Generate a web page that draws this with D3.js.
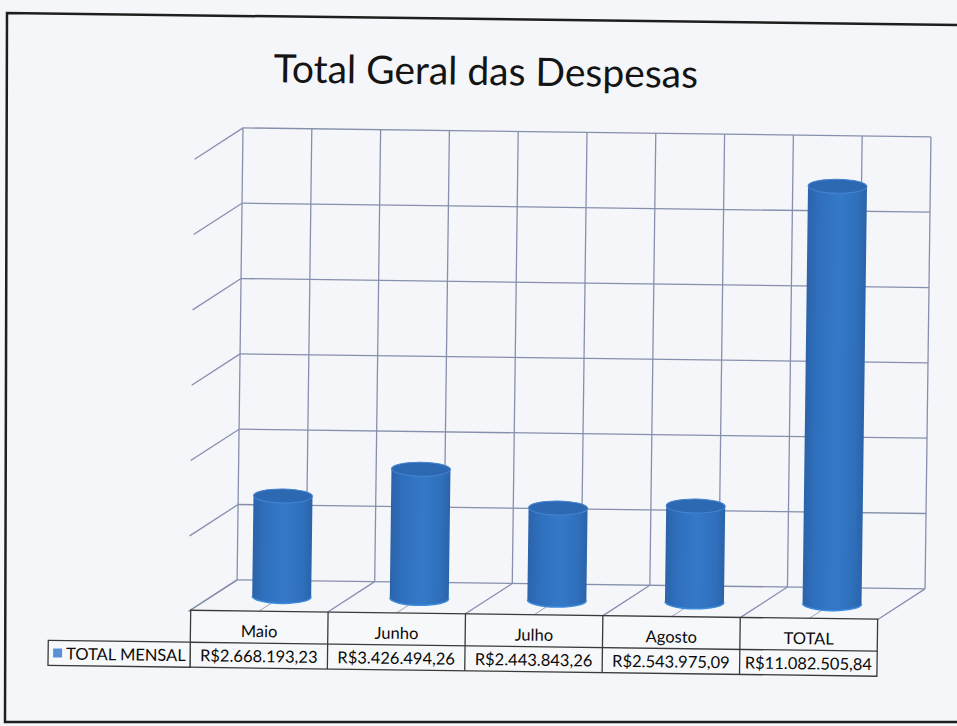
<!DOCTYPE html>
<html>
<head>
<meta charset="utf-8">
<script src="https://cdn.jsdelivr.net/npm/d3@7"></script>
<style>
  body { margin: 0; background: #f5f6f9; }
  svg { display: block; }
</style>
</head>
<body>
<svg id="chart"></svg>
<script>
// data
var chartTitle = "Total Geral das Despesas";
var seriesName = "TOTAL MENSAL";
var categories = ["Maio", "Junho", "Julho", "Agosto", "TOTAL"];
var values = [2668193.23, 3426494.26, 2443843.26, 2543975.09, 11082505.84];
var yTicks = [0, 2000000, 4000000, 6000000, 8000000, 10000000, 12000000];

// basic settings
var width = 957, height = 726;
var depthX = -48, depthY = 32;      // back wall -> front of floor
var wallLeft = 240, wallRight = 928, wallTop = 131, wallBottom = 583;
var gridColor = "#8690ae";

var brl = d3.formatLocale({decimal: ",", thousands: ".", grouping: [3], currency: ["R$", ""]});
var money = brl.format("$,.2f");

var svg = d3.select("#chart").attr("width", width).attr("height", height);

svg.append("rect").attr("width", width).attr("height", height).attr("fill", "#f5f6f9");

// page frame of the scan
svg.append("path")
    .attr("d", "M957,25 L7,13 L5,722 L957,722")
    .attr("fill", "none").attr("stroke", "#1e1e1e").attr("stroke-width", 2.5);

// whole chart slightly tilted, like the scan
var g = svg.append("g").attr("transform", "rotate(0.75,480,360)");

var x = d3.scaleBand().domain(categories).range([wallLeft, wallRight]).padding(0);
var y = d3.scaleLinear().domain([0, 12000000]).range([wallBottom, wallTop]);

// title
g.append("text")
    .attr("x", 482).attr("y", 85)
    .attr("text-anchor", "middle")
    .style("font-family", "Lato, 'Open Sans', sans-serif")
    .style("font-size", "39px")
    .style("fill", "#141414")
    .text(chartTitle);

// vertical positions on the back wall: band edges and centers
var half = x.step() / 2;
var vLines = d3.range(categories.length * 2 + 1).map(function(k) { return wallLeft + k * half; });

var grid = g.append("g").attr("stroke", gridColor).attr("stroke-width", 1.3).attr("fill", "none");

// back wall horizontals
grid.selectAll(".hgrid").data(yTicks).enter().append("line")
    .attr("x1", wallLeft).attr("x2", wallRight)
    .attr("y1", function(d) { return y(d); }).attr("y2", function(d) { return y(d); });

// back wall verticals
grid.selectAll(".vgrid").data(vLines).enter().append("line")
    .attr("x1", function(d) { return d; }).attr("x2", function(d) { return d; })
    .attr("y1", wallTop).attr("y2", wallBottom);

// side wall gridlines
grid.selectAll(".sgrid").data(yTicks).enter().append("line")
    .attr("x1", wallLeft).attr("y1", function(d) { return y(d); })
    .attr("x2", wallLeft + depthX).attr("y2", function(d) { return y(d) + depthY; });

// floor lines
grid.selectAll(".fgrid").data(vLines).enter().append("line")
    .attr("x1", function(d) { return d; }).attr("y1", wallBottom)
    .attr("x2", function(d) { return d + depthX; }).attr("y2", wallBottom + depthY)
    .attr("stroke-width", function(d, i) { return i % 2 ? 0.8 : 1.3; });

// cylinders
var defs = svg.append("defs");
var grad = defs.append("linearGradient").attr("id", "cyl").attr("x1", 0).attr("x2", 1).attr("y1", 0).attr("y2", 0);
grad.append("stop").attr("offset", "0%").attr("stop-color", "#2b63a9");
grad.append("stop").attr("offset", "20%").attr("stop-color", "#2f70be");
grad.append("stop").attr("offset", "55%").attr("stop-color", "#3479c8");
grad.append("stop").attr("offset", "85%").attr("stop-color", "#2f6fbb");
grad.append("stop").attr("offset", "100%").attr("stop-color", "#2a64aa");

var rx = 29.5, ry = 7;
var y0 = y(0) + depthY / 2;
function cx(d) { return x(d.cat) + x.bandwidth() / 2 + depthX / 2; }
function cy(d) { return y(d.val) + depthY / 2; }

var data = categories.map(function(c, i) { return {cat: c, val: values[i]}; });

var bars = g.selectAll(".bar").data(data).enter().append("g").attr("class", "bar");

bars.append("path")
    .attr("d", function(d) {
        var c = cx(d), t = cy(d);
        return "M" + (c - rx) + "," + t + " L" + (c - rx) + "," + y0 +
               " A" + rx + "," + ry + " 0 0 0 " + (c + rx) + "," + y0 +
               " L" + (c + rx) + "," + t + " Z";
    })
    .attr("fill", "url(#cyl)");

// light rim at the base
bars.append("path")
    .attr("d", function(d) {
        var c = cx(d);
        return "M" + (c - rx) + "," + y0 + " A" + rx + "," + ry + " 0 0 0 " + (c + rx) + "," + y0;
    })
    .attr("fill", "none").attr("stroke", "#3c8ada").attr("stroke-width", 1.5);

bars.append("ellipse")
    .attr("cx", cx).attr("cy", cy)
    .attr("rx", rx).attr("ry", ry)
    .attr("fill", "#2d69b3")
    .attr("stroke", "#4584cf").attr("stroke-width", 1);

// data table
var tTop = wallBottom + depthY - 1, tMid = tTop + 32, tBot = tMid + 25;
var fLeft = wallLeft + depthX, fRight = wallRight + depthX;
var xf = d3.scaleBand().domain(categories).range([fLeft + 2, fRight + 1]);

var table = g.append("g");
table.append("rect")
    .attr("x", xf.range()[0]).attr("y", tTop)
    .attr("width", xf.range()[1] - xf.range()[0]).attr("height", tBot - tTop)
    .attr("fill", "#f7f8fa").attr("stroke", "#3a3a3a").attr("stroke-width", 1.3);
table.append("rect")
    .attr("x", 52).attr("y", tMid)
    .attr("width", xf.range()[0] - 52).attr("height", tBot - tMid)
    .attr("fill", "#f7f8fa").attr("stroke", "#3a3a3a").attr("stroke-width", 1.3);
table.append("line")
    .attr("x1", xf.range()[0]).attr("x2", xf.range()[1])
    .attr("y1", tMid).attr("y2", tMid)
    .attr("stroke", "#3a3a3a").attr("stroke-width", 1.3);
table.selectAll(".sep").data(categories.slice(1)).enter().append("line")
    .attr("x1", function(d) { return xf(d); }).attr("x2", function(d) { return xf(d); })
    .attr("y1", tTop).attr("y2", tBot)
    .attr("stroke", "#3a3a3a").attr("stroke-width", 1.3);

var font = "Lato, 'Open Sans', sans-serif";
table.selectAll(".cat").data(categories).enter().append("text")
    .attr("x", function(d) { return xf(d) + xf.bandwidth() / 2; })
    .attr("y", tTop + 26)
    .attr("text-anchor", "middle")
    .style("font-family", font).style("font-size", "16.5px").style("fill", "#0a0a0a")
    .text(function(d) { return d; });

table.selectAll(".val").data(data).enter().append("text")
    .attr("x", function(d) { return xf(d.cat) + xf.bandwidth() / 2; })
    .attr("y", tBot - 6)
    .attr("text-anchor", "middle")
    .style("font-family", font).style("font-size", "16.5px").style("fill", "#0a0a0a")
    .text(function(d) { return money(d.val); });

// legend key
table.append("rect")
    .attr("x", 57).attr("y", tMid + 8).attr("width", 9).attr("height", 9)
    .attr("fill", "#5b8fd6");
table.append("text")
    .attr("x", 70).attr("y", tBot - 6)
    .style("font-family", font).style("font-size", "16.5px").style("fill", "#0a0a0a")
    .text(seriesName);
</script>
</body>
</html>
